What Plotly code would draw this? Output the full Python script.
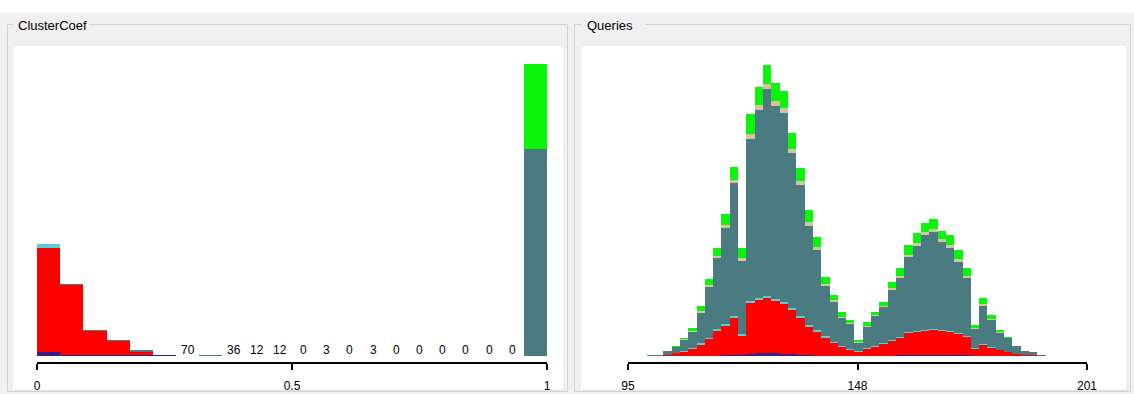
import plotly.graph_objects as go

W, H = 1134, 394

# ---------------- ClusterCoef histogram (22 bins on [0, 1]) ----------------
cc_lo, cc_hi, cc_nbins = 0.0, 1.0, 22
cc_purple = [800, 200, 200, 200, 200, 200, 0, 0, 0, 0, 0, 0, 0, 0, 0, 0, 0, 0, 0, 0, 0, 0]
cc_red    = [20800, 14000, 4800, 2800, 700, 0, 0, 0, 0, 0, 0, 0, 0, 0, 0, 0, 0, 0, 0, 0, 0, 0]
cc_cyan   = [800, 0, 0, 0, 0, 0, 0, 0, 0, 0, 0, 0, 0, 0, 0, 0, 0, 0, 0, 0, 0, 0]
cc_teal   = [0, 300, 300, 300, 400, 0, 70, 200, 36, 12, 12, 0, 3, 0, 3, 0, 0, 0, 0, 0, 0, 41500]
cc_tan    = [0] * 22
cc_green  = [0, 0, 0, 0, 0, 0, 0, 0, 0, 0, 0, 0, 0, 0, 0, 0, 0, 0, 0, 0, 0, 17000]
cc_ticks = [0, 0.5, 1]
cc_ticktext = ["0", "0.5", "1"]
cc_label_threshold = 100

# ---------------- Queries histogram (48 bins) ----------------
q_lo, q_width, q_nbins = 99.3, 1.92, 48
q_purple = [0, 0, 0, 0, 0, 0, 0, 0, 0, 20, 20, 20, 40, 60, 60, 60, 50, 40, 30, 20, 10, 0,
            0, 0, 0, 0, 0, 0, 0, 0, 20, 20, 20, 20, 20, 20, 20, 20, 20, 0, 0, 0, 0, 0, 0, 0, 0, 0]
q_red = [0, 0, 20, 60, 90, 150, 230, 340, 510, 590, 750, 390, 1030, 1070, 1100, 1050, 990, 890,
         740, 570, 480, 370, 260, 180, 120, 90, 150, 190, 250, 300, 350, 440, 470, 480, 510, 480,
         460, 430, 370, 150, 230, 170, 120, 80, 50, 30, 20, 0]
q_cyan = [0, 0, 0, 10, 10, 20, 30, 30, 30, 30, 40, 30, 40, 40, 40, 40, 40, 40, 40, 40, 30, 30,
          30, 20, 20, 10, 20, 20, 20, 20, 20, 20, 20, 20, 20, 20, 20, 20, 20, 20, 20, 20, 10, 10,
          0, 0, 0, 0]
q_teal = [20, 30, 80, 110, 230, 320, 610, 1020, 1430, 1930, 2650, 1470, 3240, 3760, 4150, 3860,
          3790, 3100, 2620, 1980, 1610, 1010, 800, 560, 510, 170, 420, 600, 720, 1010, 1180, 1510,
          1700, 1910, 1940, 1770, 1670, 1420, 1160, 380, 760, 540, 340, 270, 160, 70, 70, 30]
q_tan = [0, 0, 0, 0, 10, 20, 30, 40, 40, 60, 60, 50, 100, 100, 100, 100, 100, 80, 80, 80, 60, 40,
         40, 30, 20, 20, 20, 20, 20, 40, 40, 40, 60, 60, 60, 60, 60, 60, 40, 20, 40, 20, 20, 10,
         0, 0, 0, 0]
q_green = [0, 0, 0, 20, 30, 60, 100, 120, 160, 220, 260, 200, 400, 360, 380, 360, 340, 320, 260,
           240, 200, 140, 100, 100, 60, 40, 80, 60, 80, 120, 160, 200, 200, 180, 200, 160, 200,
           180, 160, 60, 120, 80, 40, 20, 0, 0, 0, 0]
q_ticks = [95, 148, 201]

layer_names = ["c1", "c2", "c3", "c4", "c5", "c6"]
layer_colors = ["rgba(58,30,140,0.999)", "rgba(255,0,0,0.999)", "rgba(86,206,210,0.999)",
                "rgba(74,123,128,0.999)", "rgba(214,196,160,0.999)", "rgba(10,245,10,0.999)"]

cc_layers = [cc_purple, cc_red, cc_cyan, cc_teal, cc_tan, cc_green]
q_layers = [q_purple, q_red, q_cyan, q_teal, q_tan, q_green]

cc_w = (cc_hi - cc_lo) / cc_nbins
cc_x = [cc_lo + (k + 0.5) * cc_w for k in range(cc_nbins)]
q_x = [q_lo + (k + 0.5) * q_width for k in range(q_nbins)]

fig = go.Figure()
for name, col, vals in zip(layer_names, layer_colors, cc_layers):
    fig.add_trace(go.Bar(x=cc_x, y=vals, width=cc_w, name=name, marker=dict(color=col, line=dict(width=0)),
                         xaxis="x", yaxis="y", showlegend=False, hoverinfo="skip"))
for name, col, vals in zip(layer_names, layer_colors, q_layers):
    fig.add_trace(go.Bar(x=q_x, y=vals, width=q_width, name=name, marker=dict(color=col, line=dict(width=0)),
                         xaxis="x2", yaxis="y2", showlegend=False, hoverinfo="skip"))

def px(x):
    return x / W

def py(y):
    return 1 - y / H

BG = "#f0f0f0"
shapes = []
# top white strip
shapes.append(dict(type="rect", xref="paper", yref="paper", x0=0, x1=1, y0=py(13), y1=1,
                   fillcolor="#ffffff", line=dict(width=0), layer="below"))
for (gx0, gx1, wx0, wx1, tx0, tx1) in [(7.5, 567.5, 12, 564, 13, 89), (574.5, 1130.5, 580, 1127, 582, 646)]:
    shapes.append(dict(type="rect", xref="paper", yref="paper", x0=px(gx0), x1=px(gx1), y0=py(391.5), y1=py(24.5),
                       fillcolor="rgba(0,0,0,0)", line=dict(color="#d2d2d2", width=1), layer="below"))
    shapes.append(dict(type="rect", xref="paper", yref="paper", x0=px(wx0), x1=px(wx1), y0=py(390), y1=py(45),
                       fillcolor="#ffffff", line=dict(color="#e4e4e4", width=1), layer="below"))
    shapes.append(dict(type="rect", xref="paper", yref="paper", x0=px(tx0), x1=px(tx1), y0=py(33), y1=py(17),
                       fillcolor=BG, line=dict(width=0), layer="below"))

annotations = []
for txt, x in [("ClusterCoef", 16), ("Queries", 585)]:
    annotations.append(dict(text=txt, xref="paper", yref="paper", x=px(x), y=py(25), xanchor="left",
                            yanchor="middle", showarrow=False,
                            font=dict(family="Liberation Sans, Arial", size=13, color="#000000")))

# count labels for bins whose bar is too small to see
for k in range(cc_nbins):
    total = sum(layer[k] for layer in cc_layers)
    if total < cc_label_threshold:
        annotations.append(dict(text=str(total), xref="x", yref="y", x=cc_x[k], y=0, xanchor="center",
                                yanchor="bottom", yshift=-3, showarrow=False,
                                font=dict(family="Liberation Sans, Arial", size=12, color="#000000")))

top_px, base_px, axis_px = 60, 356.2, 361.5
ydom = [py(axis_px), py(top_px)]
cc_scale, q_scale = 200, 20

axis_common = dict(showgrid=False, zeroline=False, showline=True, linecolor="#000000", linewidth=2,
                   ticks="outside", ticklen=6, tickwidth=2, tickcolor="#000000", automargin=False,
                   tickfont=dict(family="Liberation Sans, Arial", size=12, color="#000000"),
                   ticklabelstandoff=6, fixedrange=True)

fig.update_layout(
    template="none",
    width=W, height=H, autosize=False, margin=dict(l=0, r=0, t=0, b=0, pad=0),
    paper_bgcolor=BG, plot_bgcolor="rgba(0,0,0,0)", showlegend=False,
    barmode="stack", bargap=0, bargroupgap=0,
    shapes=shapes, annotations=annotations,
    xaxis=dict(domain=[px(37), px(547)], range=[cc_lo, cc_hi], tickvals=cc_ticks, ticktext=cc_ticktext,
               anchor="y", **axis_common),
    yaxis=dict(domain=ydom, range=[-(axis_px - base_px) * cc_scale, (base_px - top_px) * cc_scale],
               visible=False, anchor="x", fixedrange=True, automargin=False),
    xaxis2=dict(domain=[px(628), px(1087)], range=[95, 201], tickvals=q_ticks,
                anchor="y2", **axis_common),
    yaxis2=dict(domain=ydom, range=[-(axis_px - base_px) * q_scale, (base_px - top_px) * q_scale],
                visible=False, anchor="x2", fixedrange=True, automargin=False),
)

fig.write_html("out.html", config={"displayModeBar": False, "responsive": False},
               post_script="document.body.style.margin='0';document.body.style.overflow='hidden';")
